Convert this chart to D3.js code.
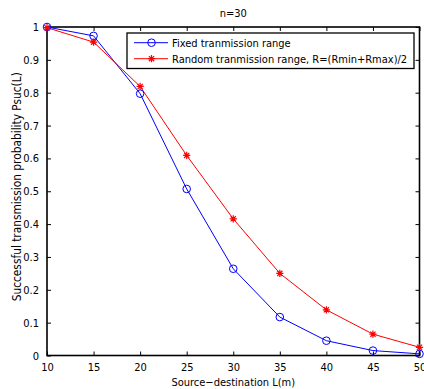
<!DOCTYPE html>
<html><head><meta charset="utf-8">
<script src="https://cdn.jsdelivr.net/npm/d3@7"></script>
<style>body{margin:0;background:#fff}text{font-family:"DejaVu Sans Condensed","DejaVu Sans",sans-serif;font-stretch:condensed}</style>
</head><body>
<svg id="c" width="424" height="389"></svg>
<script>
const distances = [10, 15, 20, 25, 30, 35, 40, 45, 50];
const fixedRange = [1.0, 0.973, 0.797, 0.507, 0.264, 0.117, 0.045, 0.015, 0.005];
const randomRange = [0.998, 0.954, 0.819, 0.609, 0.416, 0.25, 0.139, 0.065, 0.025];
const xTicks = [10, 15, 20, 25, 30, 35, 40, 45, 50];
const yTicks = [0, 0.1, 0.2, 0.3, 0.4, 0.5, 0.6, 0.7, 0.8, 0.9, 1];
const seriesNames = ["Fixed tranmission range", "Random tranmission range, R=(Rmin+Rmax)/2"];
const titleText = "n=30";
const xLabel = "Source\u2212destination L(m)";
const yLabel = "Successful transmission probability Psuc(L)";

const svg = d3.select("#c");
const L = 47, R = 419.5, T = 27, B = 355.5;
const x = d3.scaleLinear().domain([10, 50]).range([L, R]);
const y = d3.scaleLinear().domain([0, 1]).range([B, T]);
const fs = "11px";

// axes
const g = svg.append("g");
g.append("g").attr("transform", `translate(0,${B})`)
  .call(d3.axisBottom(x).tickValues(xTicks).tickSizeInner(-4).tickSizeOuter(0).tickPadding(8).tickFormat(d3.format("d")))
  .call(a => { a.select(".domain").remove(); a.selectAll("text").attr("font-size", fs).attr("fill","#000").attr("font-family", null); });
g.append("g").attr("transform", `translate(0,${T})`)
  .call(d3.axisTop(x).tickValues(xTicks).tickSizeInner(-4).tickSizeOuter(0).tickFormat(""))
  .call(a => a.select(".domain").remove());
g.append("g").attr("transform", `translate(${L},0)`)
  .call(d3.axisLeft(y).tickValues(yTicks).tickSizeInner(-4).tickSizeOuter(0).tickPadding(8).tickFormat(d => d === 0 || d === 1 ? d3.format("d")(d) : d3.format(".1f")(d)))
  .call(a => { a.select(".domain").remove(); a.selectAll("text").attr("font-size", fs).attr("fill","#000").attr("font-family", null); });
g.append("g").attr("transform", `translate(${R},0)`)
  .call(d3.axisRight(y).tickValues(yTicks).tickSizeInner(-4).tickSizeOuter(0).tickFormat(""))
  .call(a => a.select(".domain").remove());
g.selectAll(".tick line").attr("stroke", "#000").attr("stroke-width", 1);
svg.append("rect").attr("x", L).attr("y", T).attr("width", R - L).attr("height", B - T)
  .attr("fill", "none").attr("stroke", "#000").attr("stroke-width", 1.6);

// lines
const line = d3.line().x((d, i) => x(distances[i])).y(d => y(d));
svg.append("path").datum(fixedRange).attr("d", line).attr("fill", "none").attr("stroke", "#0000ff").attr("stroke-width", 1);
svg.append("path").datum(randomRange).attr("d", line).attr("fill", "none").attr("stroke", "#ff0000").attr("stroke-width", 1);

function circle(sel, cx, cy) {
  sel.append("circle").attr("cx", cx).attr("cy", cy).attr("r", 3.8).attr("fill", "none").attr("stroke", "#0000ff").attr("stroke-width", 1);
}
function star(sel, cx, cy) {
  const s = 3.6, d = s * 0.72;
  const p = `M${cx - s},${cy}L${cx + s},${cy}M${cx},${cy - s}L${cx},${cy + s}M${cx - d},${cy - d}L${cx + d},${cy + d}M${cx - d},${cy + d}L${cx + d},${cy - d}`;
  sel.append("path").attr("d", p).attr("stroke", "#ff0000").attr("stroke-width", 1.2).attr("fill", "none");
}
const mk = svg.append("g");
fixedRange.forEach((v, i) => circle(mk, x(distances[i]), y(v)));
randomRange.forEach((v, i) => star(mk, x(distances[i]), y(v)));

// title & labels
svg.append("text").attr("x", (L + R) / 2).attr("y", 17).attr("text-anchor", "middle").attr("font-size", fs).text(titleText);
svg.append("text").attr("x", (L + R) / 2).attr("y", 386).attr("text-anchor", "middle").attr("font-size", fs).text(xLabel);
svg.append("text").attr("transform", `translate(21,${(T + B) / 2 - 4.5}) rotate(-90)`).attr("text-anchor", "middle").attr("font-size", "11.8px").text(yLabel);

// legend
const lg = svg.append("g");
lg.append("rect").attr("x", 127).attr("y", 33).attr("width", 287).attr("height", 35.5)
  .attr("fill", "#fff").attr("stroke", "#000").attr("stroke-width", 1.3);
const rows = [42.7, 58.7];
const colors = ["#0000ff", "#ff0000"];
rows.forEach((ry, i) => {
  lg.append("line").attr("x1", 134).attr("x2", 168).attr("y1", ry).attr("y2", ry).attr("stroke", colors[i]).attr("stroke-width", 1);
  if (i === 0) circle(lg, 151.5, ry); else star(lg, 151.5, ry);
  lg.append("text").attr("x", 172).attr("y", ry + 4).attr("font-size", fs).text(seriesNames[i]);
});
</script>
</body></html>
